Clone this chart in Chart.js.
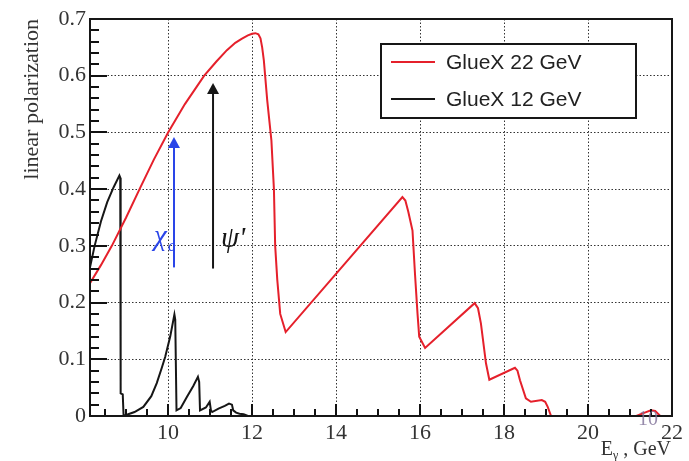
<!DOCTYPE html>
<html>
<head>
<meta charset="utf-8">
<script src="https://cdn.jsdelivr.net/npm/chart.js@4.4.1/dist/chart.umd.min.js"></script>
<style>
  html, body { margin: 0; padding: 0; background: #fff; }
</style>
</head>
<body>
<canvas id="polChart" width="689" height="461"></canvas>
<script>
// Linear polarization vs photon energy, GlueX 22 GeV beam
const e22 = [8.14, 8.4, 8.66, 9.0, 9.32, 9.66, 10.0, 10.4, 10.86, 11.15, 11.4, 11.6, 11.75, 11.9, 12.0, 12.08,
  12.15, 12.2, 12.24, 12.28, 12.36, 12.46, 12.52, 12.55, 12.6, 12.67, 12.8, 15.58, 15.65, 15.72, 15.82, 15.88,
  15.94, 15.98, 16.12, 17.3, 17.38, 17.45, 17.57, 17.65, 18.26, 18.32, 18.38, 18.52, 18.64, 18.9,
  18.98, 19.04, 19.12, 21.15, 21.35, 21.5, 21.6, 21.72, 22.0];
const pol22 = [0.234, 0.266, 0.300, 0.350, 0.400, 0.452, 0.500, 0.550, 0.600, 0.625, 0.645, 0.658, 0.665, 0.671, 0.674, 0.675,
  0.673, 0.666, 0.650, 0.627, 0.557, 0.486, 0.400, 0.300, 0.240, 0.180, 0.148, 0.386, 0.380, 0.360, 0.327, 0.250,
  0.180, 0.140, 0.120, 0.199, 0.190, 0.163, 0.093, 0.064, 0.085, 0.080, 0.063, 0.031, 0.025, 0.028,
  0.025, 0.016, 0.0, 0.0, 0.006, 0.010, 0.009, 0.0, 0.0];

// GlueX 12 GeV beam
const e12 = [8.14, 8.25, 8.4, 8.55, 8.7, 8.84, 8.86, 8.87, 8.92, 8.94, 9.05, 9.2, 9.41, 9.6, 9.73, 9.85,
  9.93, 10.05, 10.15, 10.17, 10.2, 10.3, 10.45, 10.6, 10.71, 10.74, 10.76, 10.9, 10.99, 11.02, 11.05,
  11.2, 11.35, 11.45, 11.52, 11.55, 11.62, 11.7, 11.8, 11.9];
const pol12 = [0.262, 0.300, 0.343, 0.377, 0.403, 0.424, 0.420, 0.040, 0.038, 0.0, 0.003, 0.007, 0.016, 0.035, 0.058, 0.085,
  0.104, 0.140, 0.179, 0.170, 0.010, 0.014, 0.034, 0.053, 0.069, 0.060, 0.010, 0.015, 0.025, 0.010, 0.007,
  0.013, 0.018, 0.022, 0.020, 0.010, 0.006, 0.004, 0.003, 0.0];

const seriesNames = ['GlueX 22 GeV', 'GlueX 12 GeV'];

const xTicks = [10, 12, 14, 16, 18, 20, 22];
const yTicks = [0, 0.1, 0.2, 0.3, 0.4, 0.5, 0.6, 0.7];
const yTickLabels = ['0', '0.1', '0.2', '0.3', '0.4', '0.5', '0.6', '0.7'];

// threshold arrows: chi_c and psi'
const markE = [10.14, 11.07];
const markFrom = [0.262, 0.26];
const markTo = [0.492, 0.587];

const RED = '#e5202b';
const INK = '#161616';
const BLUE = '#2a45e8';
const SERIF = '"Liberation Serif", "Times New Roman", serif';
const SANS = '"Liberation Sans", Arial, sans-serif';

const toPoints = (xs, ys) => xs.map((v, i) => ({ x: v, y: ys[i] }));

// short inward tick marks along the bottom and left axes
const minorTicks = {
  id: 'minorTicks',
  afterDraw(chart) {
    const { ctx, scales } = chart;
    const sx = scales.x, sy = scales.y;
    const bottom = sy.getPixelForValue(0);
    const left = sx.getPixelForValue(sx.min);
    ctx.save();
    ctx.setLineDash([]);
    ctx.fillStyle = '#111';
    for (let e = 8.5; e < 22; e += 0.5) {
      const px = Math.round(sx.getPixelForValue(e));
      const len = e % 2 === 0 ? 12 : 7;
      ctx.fillRect(px - 1, bottom - len, 2, len);
    }
    for (let k = 1; k < 35; k++) {
      const py = Math.round(sy.getPixelForValue(k * 0.02));
      const len = k % 5 === 0 ? 17 : 9;
      ctx.fillRect(left, py - 1, len, 2);
    }
    ctx.restore();
  }
};

const decorations = {
  id: 'decorations',
  afterDraw(chart) {
    const { ctx, chartArea: a, scales: { x, y } } = chart;
    const L = Math.round(a.left), R = Math.round(a.right);
    const T = Math.round(a.top), B = Math.round(a.bottom);
    ctx.save();
    ctx.setLineDash([]);
    ctx.fillStyle = INK;

    // frame
    ctx.fillRect(L - 1, T - 1, R - L + 2, 2);
    ctx.fillRect(L - 1, B - 1, R - L + 2, 2);
    ctx.fillRect(L - 1, T - 1, 2, B - T + 2);
    ctx.fillRect(R - 1, T - 1, 2, B - T + 2);

    // arrows
    const colors = [BLUE, INK];
    markE.forEach((e, i) => {
      const px = x.getPixelForValue(e);
      const y0 = y.getPixelForValue(markFrom[i]);
      const y1 = y.getPixelForValue(markTo[i]);
      ctx.strokeStyle = colors[i];
      ctx.fillStyle = colors[i];
      ctx.lineWidth = 2;
      ctx.beginPath();
      ctx.moveTo(px, y0);
      ctx.lineTo(px, y1 + 8);
      ctx.stroke();
      ctx.beginPath();
      ctx.moveTo(px, y1);
      ctx.lineTo(px - 6, y1 + 11);
      ctx.lineTo(px + 6, y1 + 11);
      ctx.closePath();
      ctx.fill();
    });

    // arrow labels
    const chiX = x.getPixelForValue(markE[0]);
    ctx.fillStyle = BLUE;
    ctx.textBaseline = 'alphabetic';
    ctx.textAlign = 'right';
    ctx.font = 'italic 16px ' + SERIF;
    ctx.fillText('c', chiX + 1, 251);
    const cW = ctx.measureText('c').width;
    ctx.font = 'italic 29px ' + SERIF;
    ctx.fillText('χ', chiX - cW, 245);

    const psiX = x.getPixelForValue(markE[1]);
    ctx.fillStyle = INK;
    ctx.textAlign = 'left';
    ctx.font = 'italic 29px ' + SERIF;
    ctx.fillText("ψ'", psiX + 8, 247);

    // x axis title with subscript
    ctx.fillStyle = '#333';
    ctx.font = '20px ' + SERIF;
    const wE = ctx.measureText('E').width;
    const wRest = ctx.measureText(' , GeV').width;
    ctx.font = '12px ' + SERIF;
    const wG = ctx.measureText('γ').width;
    const tx = 671 - (wE + wG + wRest);
    ctx.font = '20px ' + SERIF;
    ctx.fillText('E', tx, 455);
    ctx.font = '12px ' + SERIF;
    ctx.fillText('γ', tx + wE, 459);
    ctx.font = '20px ' + SERIF;
    ctx.fillText(' , GeV', tx + wE + wG, 455);

    // page number
    ctx.fillStyle = 'rgba(125, 110, 150, 0.8)';
    ctx.textAlign = 'center';
    ctx.font = '20px ' + SERIF;
    ctx.fillText('10', 648, 425);

    // legend
    const lx = 381, ly = 44, lw = 255, lh = 74;
    ctx.fillStyle = '#fff';
    ctx.fillRect(lx, ly, lw, lh);
    ctx.fillStyle = INK;
    ctx.fillRect(lx - 1, ly - 1, lw + 2, 2);
    ctx.fillRect(lx - 1, ly + lh - 1, lw + 2, 2);
    ctx.fillRect(lx - 1, ly - 1, 2, lh + 2);
    ctx.fillRect(lx + lw - 1, ly - 1, 2, lh + 2);
    ctx.font = '21px ' + SANS;
    ctx.textAlign = 'left';
    ctx.textBaseline = 'middle';
    chart.data.datasets.forEach((ds, i) => {
      const rowY = ly + 18 + i * 37;
      ctx.fillStyle = ds.borderColor;
      ctx.fillRect(lx + 10, rowY - 1, 44, 2);
      ctx.fillStyle = '#222';
      ctx.fillText(ds.label, lx + 65, rowY + 1);
    });

    ctx.restore();
  }
};

new Chart(document.getElementById('polChart'), {
  type: 'scatter',
  data: {
    datasets: [
      { label: seriesNames[0], data: toPoints(e22, pol22), borderColor: RED, borderWidth: 2, showLine: true, pointRadius: 0, tension: 0 },
      { label: seriesNames[1], data: toPoints(e12, pol12), borderColor: INK, borderWidth: 2, showLine: true, pointRadius: 0, tension: 0 }
    ]
  },
  options: {
    responsive: false,
    animation: false,
    devicePixelRatio: 1,
    layout: { padding: { top: 19, right: 17, left: 0, bottom: 0 } },
    plugins: {
      legend: { display: false },
      tooltip: { enabled: false }
    },
    scales: {
      x: {
        type: 'linear',
        min: 8.14,
        max: 22,
        afterBuildTicks: s => { s.ticks = xTicks.map(v => ({ value: v })); },
        afterFit: s => { s.height = 45; },
        grid: { color: '#333', lineWidth: 1, drawTicks: false },
        border: { display: false, dash: [1.5, 2] },
        ticks: { font: { family: SERIF, size: 22 }, color: '#333', padding: 4, maxRotation: 0, autoSkip: false }
      },
      y: {
        type: 'linear',
        min: 0,
        max: 0.7,
        afterBuildTicks: s => { s.ticks = yTicks.map(v => ({ value: v })); },
        afterFit: s => { s.width = 90; },
        grid: { color: '#333', lineWidth: 1, drawTicks: false },
        border: { display: false, dash: [1.5, 2] },
        ticks: {
          font: { family: SERIF, size: 22 }, color: '#333', padding: 4,
          callback: (v, i) => yTickLabels[i]
        },
        title: {
          display: true,
          text: 'linear polarization',
          align: 'end',
          color: '#333',
          font: { family: SERIF, size: 22 },
          padding: { top: 19, bottom: 0 }
        }
      }
    }
  },
  plugins: [minorTicks, decorations]
});
</script>
</body>
</html>
